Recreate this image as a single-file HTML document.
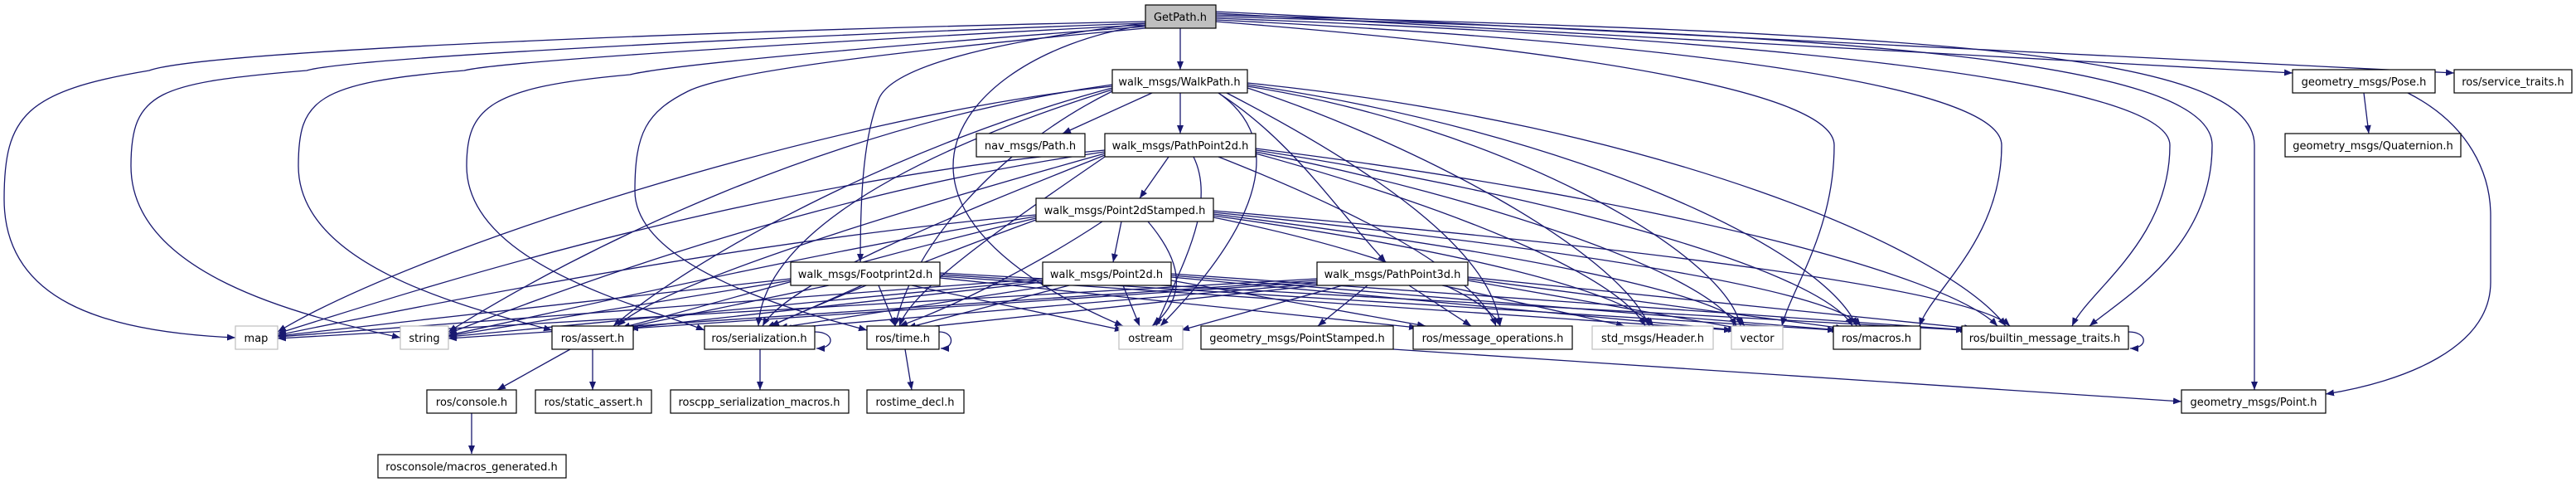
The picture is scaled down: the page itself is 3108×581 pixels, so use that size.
<!DOCTYPE html>
<html><head><meta charset="utf-8"><style>
html,body{margin:0;padding:0;background:#fff;}
svg{display:block;}
text{font-family:"DejaVu Sans","Liberation Sans",sans-serif;font-size:13px;fill:#000;}
.e{fill:none;stroke:#191970;stroke-width:1.3;marker-end:url(#a);}
.n{fill:#fff;stroke:#000;stroke-width:1.2;}
.g{fill:#fff;stroke:#bfbfbf;stroke-width:1.2;}
</style></head><body>
<svg width="3108" height="581" viewBox="0 0 3108 581" xmlns="http://www.w3.org/2000/svg">
<defs><marker id="a" markerUnits="userSpaceOnUse" markerWidth="11" markerHeight="8" refX="10" refY="4" orient="auto"><path d="M0,0 L10,4 L0,8 z" fill="#191970"/></marker></defs>
<g>
<path class="e" d="M1382,26 C900,36 250,60 180,85 C30,110 5,140 5,240 C5,360 120,400 284,407"/>
<path class="e" d="M1382,28 C900,45 420,70 370,85 C190,100 158,110 158,200 C158,330 360,380 483,407"/>
<path class="e" d="M1382,30 C900,55 600,75 560,85 C380,100 360,120 360,200 C360,320 560,370 666,398"/>
<path class="e" d="M1382,32 C1000,60 800,80 760,90 C590,105 563,130 563,200 C563,320 780,370 850,398"/>
<path class="e" d="M1382,34 C1100,60 880,85 830,110 C780,135 766,160 766,230 C766,330 1000,385 1046,398"/>
<path class="e" d="M1382,28 C1200,50 1075,80 1060,120 C1040,170 1038,250 1038,316"/>
<path class="e" d="M1383,30 C1250,50 1150,120 1150,200 C1150,300 1300,370 1355,393"/>
<path class="e" d="M1424,34 L1424,84"/>
<path class="e" d="M1467,26 C1900,60 2213,110 2213,175 C2213,280 2160,350 2150,393"/>
<path class="e" d="M1467,24 C2000,50 2415,100 2415,175 C2415,290 2330,350 2316,393"/>
<path class="e" d="M1467,22 C2100,45 2618,95 2618,175 C2618,290 2520,350 2500,393"/>
<path class="e" d="M1467,20 C2200,40 2669,70 2669,175 C2669,300 2560,360 2521,393"/>
<path class="e" d="M1467,18 C2300,40 2720,60 2720,175 L2720,470"/>
<path class="e" d="M1467,16 L2766,88"/>
<path class="e" d="M1467,14 L2961,88"/>
<path class="e" d="M1342,104 C1000,140 500,300 335,400"/>
<path class="e" d="M1342,102 C1000,150 700,300 541,400"/>
<path class="e" d="M1342,106 C1100,170 850,300 740,393"/>
<path class="e" d="M1342,108 C1050,200 920,300 915,393"/>
<path class="e" d="M1342,110 C1200,180 1100,300 1080,393"/>
<path class="e" d="M1390,112 L1282,161"/>
<path class="e" d="M1424,112 L1424,161"/>
<path class="e" d="M1470,112 C1540,160 1540,250 1400,393"/>
<path class="e" d="M1470,112 C1560,170 1610,250 1672,316"/>
<path class="e" d="M1480,112 C1650,200 1800,300 1810,393"/>
<path class="e" d="M1505,106 C1700,170 1950,300 1990,393"/>
<path class="e" d="M1505,104 C1800,150 2080,300 2100,393"/>
<path class="e" d="M1505,102 C1900,160 2200,300 2240,393"/>
<path class="e" d="M1505,100 C2000,150 2350,300 2420,393"/>
<path class="e" d="M1333,181 C900,220 500,350 335,402"/>
<path class="e" d="M1333,183 C1000,230 700,340 541,402"/>
<path class="e" d="M1333,185 C1100,250 800,340 745,393"/>
<path class="e" d="M1333,187 C1150,260 950,340 920,393"/>
<path class="e" d="M1333,189 C1200,280 1100,350 1085,393"/>
<path class="e" d="M1410,189 L1375,239"/>
<path class="e" d="M1440,189 C1470,250 1420,330 1395,393"/>
<path class="e" d="M1470,189 C1650,260 1780,330 1805,393"/>
<path class="e" d="M1515,185 C1750,250 1950,330 1985,393"/>
<path class="e" d="M1515,183 C1800,240 2060,330 2095,393"/>
<path class="e" d="M1515,181 C1900,240 2200,330 2235,393"/>
<path class="e" d="M1515,179 C2000,240 2350,330 2410,393"/>
<path class="e" d="M1250,259 C900,290 500,370 335,404"/>
<path class="e" d="M1250,261 C1000,300 700,370 541,404"/>
<path class="e" d="M1250,263 C1050,310 850,370 750,395"/>
<path class="e" d="M1250,265 C1100,320 980,370 925,395"/>
<path class="e" d="M1330,267 C1250,320 1150,370 1085,393"/>
<path class="e" d="M1353,267 L1343,316"/>
<path class="e" d="M1385,267 C1430,320 1430,360 1390,393"/>
<path class="e" d="M1464,262 C1650,300 1790,350 1810,393"/>
<path class="e" d="M1464,260 C1750,300 1960,350 1995,393"/>
<path class="e" d="M1464,258 C1800,300 2070,350 2105,393"/>
<path class="e" d="M1464,256 C1900,300 2210,350 2245,393"/>
<path class="e" d="M1464,254 C2000,300 2380,350 2425,393"/>
<path class="e" d="M954,336 L335,405"/>
<path class="e" d="M954,338 L541,405"/>
<path class="e" d="M1000,344 L750,396"/>
<path class="e" d="M1040,344 L930,393"/>
<path class="e" d="M1060,344 L1080,393"/>
<path class="e" d="M1100,344 L1355,398"/>
<path class="e" d="M1134,335 L1710,395"/>
<path class="e" d="M1134,333 L2090,398"/>
<path class="e" d="M1134,331 L2215,398"/>
<path class="e" d="M1134,329 L2370,398"/>
<path class="e" d="M1258,336 L335,406"/>
<path class="e" d="M1258,338 L541,406"/>
<path class="e" d="M1258,340 L755,396"/>
<path class="e" d="M1270,344 L940,395"/>
<path class="e" d="M1290,344 L1095,395"/>
<path class="e" d="M1355,344 L1375,393"/>
<path class="e" d="M1413,338 L1720,393"/>
<path class="e" d="M1413,334 L2095,398"/>
<path class="e" d="M1413,332 L2220,398"/>
<path class="e" d="M1413,330 L2375,398"/>
<path class="e" d="M1589,336 L335,408"/>
<path class="e" d="M1589,338 L541,408"/>
<path class="e" d="M1589,340 L760,396"/>
<path class="e" d="M1589,342 L945,396"/>
<path class="e" d="M1589,344 L1100,396"/>
<path class="e" d="M1620,344 L1425,398"/>
<path class="e" d="M1650,344 L1590,393"/>
<path class="e" d="M1700,344 L1775,393"/>
<path class="e" d="M1740,344 L1960,393"/>
<path class="e" d="M1771,338 L2100,396"/>
<path class="e" d="M1771,336 L2225,396"/>
<path class="e" d="M1771,334 L2380,396"/>
<path class="e" d="M688,421 L600,470"/>
<path class="e" d="M715,421 L715,470"/>
<path class="e" d="M569,498 L569,547"/>
<path class="e" d="M917,421 L917,470"/>
<path class="e" d="M1092,421 L1100,470"/>
<path class="e" d="M2852,112 L2858,161"/>
<path class="e" d="M2905,112 C2980,150 3005,210 3005,260 L3005,340 C3005,420 2900,460 2806,475"/>
<path class="e" d="M1681,421 L2632,484"/>
<path class="e" d="M983,400 C1008,400 1008,420 985,420"/>
<path class="e" d="M1133,400 C1152,400 1152,420 1135,420"/>
<path class="e" d="M2568,400 C2592,400 2592,420 2570,420"/>
</g>
<g text-anchor="middle">
<rect x="1382" y="6" width="85" height="28" fill="#bfbfbf" stroke="#000" stroke-width="1.2"/><text x="1424" y="25">GetPath.h</text>
<rect class="n" x="1342" y="84" width="163" height="28"/><text x="1423" y="103">walk_msgs/WalkPath.h</text>
<rect class="n" x="2766" y="84" width="172" height="28"/><text x="2852" y="103">geometry_msgs/Pose.h</text>
<rect class="n" x="2961" y="84" width="142" height="28"/><text x="3032" y="103">ros/service_traits.h</text>
<rect class="n" x="1178" y="161" width="131" height="28"/><text x="1243" y="180">nav_msgs/Path.h</text>
<rect class="n" x="1333" y="161" width="182" height="28"/><text x="1424" y="180">walk_msgs/PathPoint2d.h</text>
<rect class="n" x="2757" y="161" width="212" height="28"/><text x="2863" y="180">geometry_msgs/Quaternion.h</text>
<rect class="n" x="1250" y="239" width="214" height="28"/><text x="1357" y="258">walk_msgs/Point2dStamped.h</text>
<rect class="n" x="954" y="316" width="180" height="28"/><text x="1044" y="335">walk_msgs/Footprint2d.h</text>
<rect class="n" x="1258" y="316" width="155" height="28"/><text x="1335" y="335">walk_msgs/Point2d.h</text>
<rect class="n" x="1589" y="316" width="182" height="28"/><text x="1680" y="335">walk_msgs/PathPoint3d.h</text>
<rect class="g" x="284" y="393" width="51" height="28"/><text x="309" y="412">map</text>
<rect class="g" x="483" y="393" width="58" height="28"/><text x="512" y="412">string</text>
<rect class="n" x="666" y="393" width="98" height="28"/><text x="715" y="412">ros/assert.h</text>
<rect class="n" x="850" y="393" width="133" height="28"/><text x="916" y="412">ros/serialization.h</text>
<rect class="n" x="1046" y="393" width="87" height="28"/><text x="1089" y="412">ros/time.h</text>
<rect class="g" x="1350" y="393" width="77" height="28"/><text x="1388" y="412">ostream</text>
<rect class="n" x="1449" y="393" width="232" height="28"/><text x="1565" y="412">geometry_msgs/PointStamped.h</text>
<rect class="n" x="1705" y="393" width="192" height="28"/><text x="1801" y="412">ros/message_operations.h</text>
<rect class="g" x="1921" y="393" width="146" height="28"/><text x="1994" y="412">std_msgs/Header.h</text>
<rect class="g" x="2089" y="393" width="62" height="28"/><text x="2120" y="412">vector</text>
<rect class="n" x="2212" y="393" width="105" height="28"/><text x="2264" y="412">ros/macros.h</text>
<rect class="n" x="2367" y="393" width="201" height="28"/><text x="2467" y="412">ros/builtin_message_traits.h</text>
<rect class="n" x="515" y="470" width="108" height="28"/><text x="569" y="489">ros/console.h</text>
<rect class="n" x="646" y="470" width="140" height="28"/><text x="716" y="489">ros/static_assert.h</text>
<rect class="n" x="809" y="470" width="215" height="28"/><text x="916" y="489">roscpp_serialization_macros.h</text>
<rect class="n" x="1046" y="470" width="117" height="28"/><text x="1104" y="489">rostime_decl.h</text>
<rect class="n" x="2632" y="470" width="174" height="28"/><text x="2719" y="489">geometry_msgs/Point.h</text>
<rect class="n" x="456" y="548" width="227" height="28"/><text x="569" y="567">rosconsole/macros_generated.h</text>
</g>
</svg>
</body></html>
